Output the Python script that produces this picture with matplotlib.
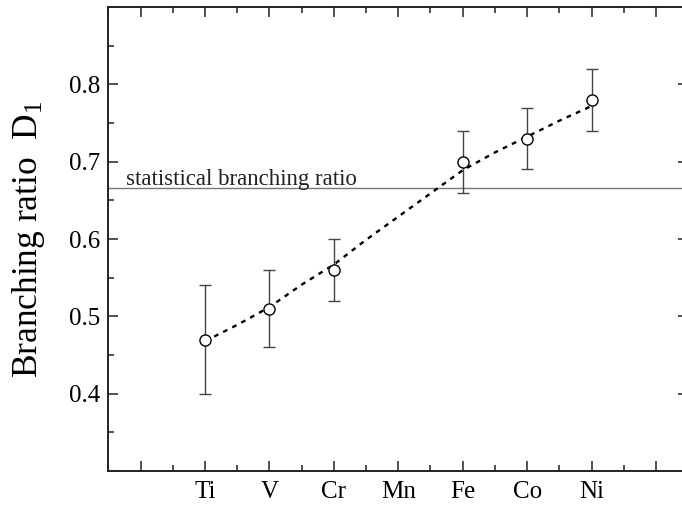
import matplotlib
matplotlib.use("Agg")
import matplotlib.pyplot as plt
from matplotlib.ticker import MultipleLocator

plt.rcParams['font.family'] = ['Liberation Serif', 'DejaVu Serif']
plt.rcParams['mathtext.fontset'] = 'custom'
plt.rcParams['mathtext.rm'] = 'Liberation Serif'
plt.rcParams['mathtext.it'] = 'Liberation Serif:italic'

# elements along the x axis (3d series)
element_order = ["Ti", "V", "Cr", "Mn", "Fe", "Co", "Ni"]

# measured branching ratios
elements = ["Ti", "V", "Cr", "Fe", "Co", "Ni"]
d1 = [0.47, 0.51, 0.56, 0.70, 0.73, 0.78]
d1_err = [0.07, 0.05, 0.04, 0.04, 0.04, 0.04]

# guide-to-the-eye curve
fit_x = [1, 1.5, 2, 2.5, 3, 3.5, 4, 4.5, 5, 5.5, 6, 6.5, 7]
fit_y = [0.468, 0.489, 0.512, 0.541, 0.567, 0.599, 0.629, 0.659, 0.689,
         0.712, 0.7325, 0.753, 0.772]

statistical = 2.0 / 3.0

xpos = [element_order.index(e) + 1 for e in elements]

fig = plt.figure(figsize=(6.82, 5.07), dpi=100)
ax = fig.add_axes([0.159, 0.071, 0.850, 0.915])

ax.axhline(statistical, color="#777777", lw=1.0, zorder=1)
ax.text(-0.22, statistical + 0.003, "statistical branching ratio",
        fontsize=16.5, color="#222222", ha="left", va="baseline")

ax.plot(fit_x, fit_y, color="black", lw=1.7, dashes=(2.0, 2.3), zorder=2)

ax.errorbar(xpos, d1, yerr=d1_err, fmt="none", ecolor="#444444",
            elinewidth=1.0, capsize=4, capthick=1.0, zorder=3)
ax.plot(xpos, d1, "o", ms=8, mfc="white", mec="black", mew=1.0, zorder=4)

ax.set_xlim(-0.5, 8.5)
ax.set_ylim(0.3, 0.9)

ax.set_xticks(range(0, 9))
ax.set_xticklabels([""] + element_order + [""])
ax.xaxis.set_minor_locator(MultipleLocator(0.5))
ax.set_yticks([0.4, 0.5, 0.6, 0.7, 0.8])
ax.yaxis.set_minor_locator(MultipleLocator(0.05))

ax.tick_params(which="both", direction="in", top=True, right=True,
               labelsize=18, width=1.1, color="#222222")
ax.tick_params(which="major", length=7)
ax.tick_params(which="minor", length=4)
ax.tick_params(axis="y", pad=6)
ax.tick_params(axis="x", pad=7)

for s in ax.spines.values():
    s.set_linewidth(1.4)
    s.set_color("#222222")

ax.set_ylabel("Branching ratio  D$_1$", fontsize=25.5)
ax.yaxis.set_label_coords(-0.106, 0.5)

fig.savefig("out.png", dpi=100)
